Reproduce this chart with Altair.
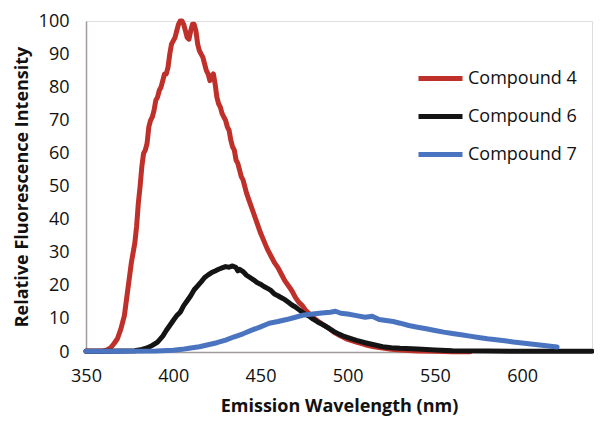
import altair as alt
import pandas as pd

series_names = ["Compound 4", "Compound 6", "Compound 7"]
colors = ["#C0302A", "#141414", "#4A74C0"]

c4_x = [350, 355, 360, 362, 364, 366, 368, 370, 372, 374, 376, 378, 379, 380, 381, 382, 383, 384, 385, 386,
        387, 388, 389, 390, 391, 392, 393, 394, 395, 396, 397, 398, 399, 400, 401, 402, 403, 404, 405, 406,
        407, 408, 409, 410, 411, 412, 413, 414, 415, 416, 417, 418, 419, 420, 421, 422, 423, 424, 425, 426,
        427, 428, 429, 430, 431, 432, 433, 434, 435, 436, 437, 438, 439, 440, 442, 444, 446, 448, 450, 452,
        454, 456, 458, 460, 462, 464, 466, 468, 470, 472, 474, 476, 478, 480, 483, 486, 489, 492, 496, 500,
        505, 510, 515, 520, 525, 530, 540, 550, 560, 570]
c4_y = [0.3, 0.3, 0.4, 0.6, 1.2, 2.5, 4, 7, 11, 19, 27, 33, 38, 45, 50, 56, 60, 61, 63, 68,
        70, 71, 73, 76, 77, 79, 80, 82, 84, 84, 86, 90, 93, 94, 95, 97, 99, 100, 100, 99,
        97, 95, 94.5, 97, 99, 99, 97, 93, 91, 90, 89, 87, 85, 84, 82, 83, 84, 81, 77, 75,
        74, 72, 71, 70, 68, 67, 64, 62, 61, 58, 57, 55, 53, 52, 48, 45, 42, 39, 36, 33.5,
        31, 29, 27, 25.5, 23.5, 21.5, 20, 18.5, 16.5, 15, 14, 12.5, 11.5, 10.5, 9.3, 8.2, 7.3, 6, 4.8, 3.8,
        3, 2.2, 1.6, 1.2, 0.8, 0.6, 0.3, 0.2, 0.1, 0.1]

c6_x = [350, 360, 370, 378, 382, 385, 388, 391, 394, 396, 398, 400, 402, 404, 406, 408, 410, 412, 414, 416,
        418, 420, 422, 424, 426, 428, 430, 432, 434, 436, 437, 438, 440, 442, 444, 446, 448, 450, 452, 454,
        456, 458, 460, 462, 464, 466, 468, 470, 472, 474, 476, 478, 480, 483, 486, 489, 492, 495, 498, 501,
        505, 510, 515, 520, 525, 530, 540, 550, 560, 580, 600, 620, 640]
c6_y = [0.2, 0.2, 0.3, 0.4, 0.8, 1.2, 2, 3, 4.8, 6.5, 8, 9.5, 11, 12, 14, 15.5, 17, 18.8, 20, 21.2,
        22.5, 23.3, 24, 24.5, 25, 25.4, 25.8, 25.6, 26, 25.5, 24.5, 25, 24.3, 23.2, 22.5, 21.8, 21, 20.5, 19.8, 19.2,
        18.6, 17.5, 17, 16.4, 15.8, 15, 14.2, 13.6, 12.8, 12, 11.3, 10.8, 10, 9, 8.2, 7.2, 6.2, 5.4, 4.7, 4.2,
        3.5, 2.8, 2.2, 1.6, 1.3, 1.1, 0.9, 0.6, 0.4, 0.3, 0.2, 0.2, 0.2]

c7_x = [350, 370, 390, 400, 405, 410, 415, 420, 425, 430, 435, 440, 445, 450, 455, 460, 465, 470, 475, 480,
        485, 490, 493, 496, 500, 505, 510, 514, 518, 522, 526, 530, 535, 540, 545, 550, 555, 560, 565, 570,
        575, 580, 585, 590, 595, 600, 605, 610, 615, 620]
c7_y = [0.2, 0.2, 0.3, 0.5, 0.8, 1.2, 1.6, 2.2, 2.8, 3.6, 4.6, 5.5, 6.6, 7.6, 8.7, 9.2, 9.8, 10.5, 11.2, 11.5,
        11.8, 12, 12.3, 11.7, 11.5, 11, 10.5, 10.8, 9.8, 9.5, 9.2, 8.7, 8, 7.5, 7, 6.5, 6, 5.6, 5.2, 4.8,
        4.4, 4, 3.7, 3.4, 3, 2.7, 2.4, 2.1, 1.8, 1.5]

x_ticks = [350, 400, 450, 500, 550, 600]
y_ticks = [0, 10, 20, 30, 40, 50, 60, 70, 80, 90, 100]

rows = []
for name, xs, ys in zip(series_names, [c4_x, c6_x, c7_x], [c4_y, c6_y, c7_y]):
    for i, (a, b) in enumerate(zip(xs, ys)):
        rows.append({"series": name, "wl": a, "val": b, "i": i})
df = pd.DataFrame(rows)

FONT = "Open Sans"

chart = alt.Chart(df).mark_line(strokeWidth=5, strokeJoin="round", strokeCap="round").encode(
    x=alt.X("wl:Q", scale=alt.Scale(domain=[350, 640], nice=False, zero=False),
            axis=alt.Axis(values=x_ticks, title="Emission Wavelength (nm)", grid=False, ticks=False,
                          labelFlush=False, labelOverlap=False,
                          labelPadding=15, titlePadding=12, labelFontSize=18, titleFontSize=18,
                          labelFont=FONT, titleFont=FONT, titleFontWeight="bold",
                          labelColor="#111", titleColor="#111",
                          domainColor="#A09A9A", domainWidth=1.5)),
    y=alt.Y("val:Q", scale=alt.Scale(domain=[0, 100], nice=False),
            axis=alt.Axis(values=y_ticks, title="Relative Fluorescence Intensity", grid=False, ticks=False,
                          labelFlush=False, labelOverlap=False,
                          labelPadding=17, titlePadding=7, labelFontSize=18, titleFontSize=18,
                          labelFont=FONT, titleFont=FONT, titleFontWeight="bold",
                          labelColor="#111", titleColor="#111",
                          domainColor="#A09A9A", domainWidth=1.5)),
    color=alt.Color("series:N", scale=alt.Scale(domain=series_names, range=colors),
                    legend=alt.Legend(title=None, orient="none", legendX=330, legendY=33,
                                      symbolType="stroke", symbolSize=1936, symbolStrokeWidth=5,
                                      labelFontSize=18, labelFont=FONT, labelColor="#111",
                                      labelOffset=3, rowPadding=3, padding=0)),
    order="i:Q",
).properties(
    width=506, height=331,
    autosize=alt.AutoSizeParams(type="none"),
    padding={"left": 78, "top": 13, "right": 2, "bottom": 81},
).configure_view(stroke=None).configure(background="white")

chart.save("out.html", embed_options={"renderer": "svg", "actions": False})
